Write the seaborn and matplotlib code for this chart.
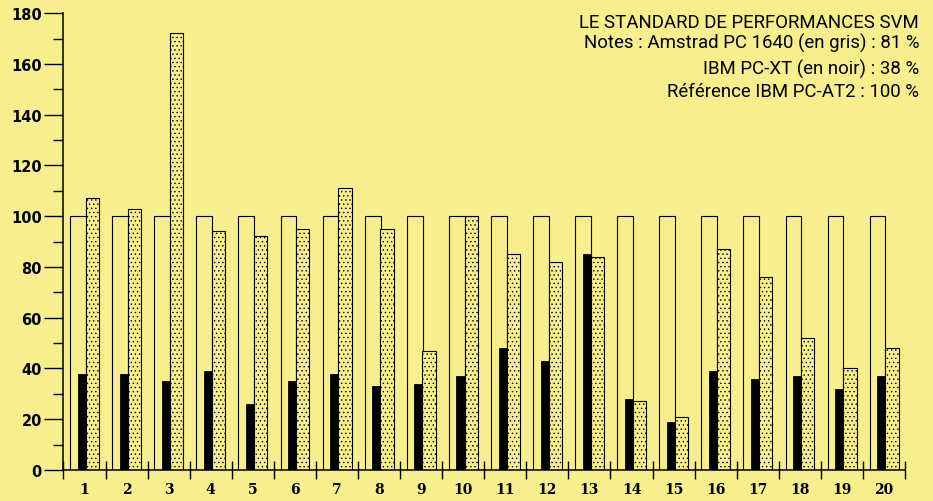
import seaborn as sns
import pandas as pd
import matplotlib.pyplot as plt

# Données (base 100 = IBM PC-AT2)
tests = list(range(1, 21))
reference_at2 = [100] * 20
amstrad_1640 = [107, 103, 172, 94, 92, 95, 111, 95, 47, 100,
                85, 82, 84, 27, 21, 87, 76, 52, 40, 48]
ibm_xt = [38, 38, 35, 39, 26, 35, 38, 33, 34, 37,
          48, 43, 85, 28, 19, 39, 36, 37, 32, 37]
y_ticks = list(range(0, 181, 20))
titre = ["LE STANDARD DE PERFORMANCES SVM",
         "Notes : Amstrad PC 1640 (en gris) : 81 %",
         "IBM PC-XT (en noir) : 38 %",
         "Référence IBM PC-AT2 : 100 %"]

df = pd.DataFrame({"test": tests, "ref": reference_at2,
                   "amstrad": amstrad_1640, "xt": ibm_xt})

fond = "#f7ef8e"
plt.rcParams["hatch.linewidth"] = 0.5

fig = plt.figure(figsize=(9.33, 5.02), dpi=100, facecolor=fond)
ax = fig.add_axes([0.068, 0.0618, 0.902, 0.910])
ax.set_facecolor(fond)

# chaque groupe occupe une unité ; les barres sont décalées dans l'unité
sns.barplot(x=df["test"] - 1 + 0.3475, y=df["ref"], native_scale=True, width=0.375,
            color=fond, saturation=1, edgecolor="black", linewidth=0.8,
            errorbar=None, ax=ax)
sns.barplot(x=df["test"] - 1 + 0.4375, y=df["xt"], native_scale=True, width=0.195,
            color="black", saturation=1, edgecolor="black", linewidth=0.6,
            errorbar=None, ax=ax)
sns.barplot(x=df["test"] - 1 + 0.69, y=df["amstrad"], native_scale=True, width=0.315,
            color=fond, saturation=1, edgecolor="black", linewidth=0.8,
            hatch="....", errorbar=None, ax=ax)

ax.set_xlim(0, 20)
ax.set_ylim(0, 180)
ax.set_xlabel("")
ax.set_ylabel("")

for s in ["top", "right"]:
    ax.spines[s].set_visible(False)
ax.spines["left"].set_linewidth(1.1)
ax.spines["bottom"].set_linewidth(1.1)

# axe X : traits aux limites des groupes, numéros au centre
ax.set_xticks(range(0, 21))
ax.set_xticklabels([])
ax.set_xticks([t - 0.5 for t in tests], minor=True)
ax.set_xticklabels([str(t) for t in tests], minor=True,
                   fontfamily="DejaVu Serif", fontweight="bold", fontsize=10)
ax.tick_params(axis="x", which="major", direction="inout", length=12.5, width=1)
ax.tick_params(axis="x", which="minor", length=0, pad=9)

# axe Y
ax.set_yticks(y_ticks)
ax.set_yticklabels([str(v) for v in y_ticks], fontweight="bold", fontsize=10.5)
ax.set_yticks(range(10, 180, 20), minor=True)
ax.tick_params(axis="y", which="major", direction="out", length=14, width=1, pad=1.5)
ax.tick_params(axis="y", which="minor", direction="out", length=7, width=1)

# légende en haut à droite
y_lignes = [0.9436, 0.9038, 0.8506, 0.8074]
for texte, y in zip(titre, y_lignes):
    fig.text(0.985, y, texte, ha="right", va="baseline", fontsize=13.4,
             family=["Roboto", "DejaVu Sans"])

plt.savefig("out.png", dpi=100, facecolor=fond)
plt.close()
